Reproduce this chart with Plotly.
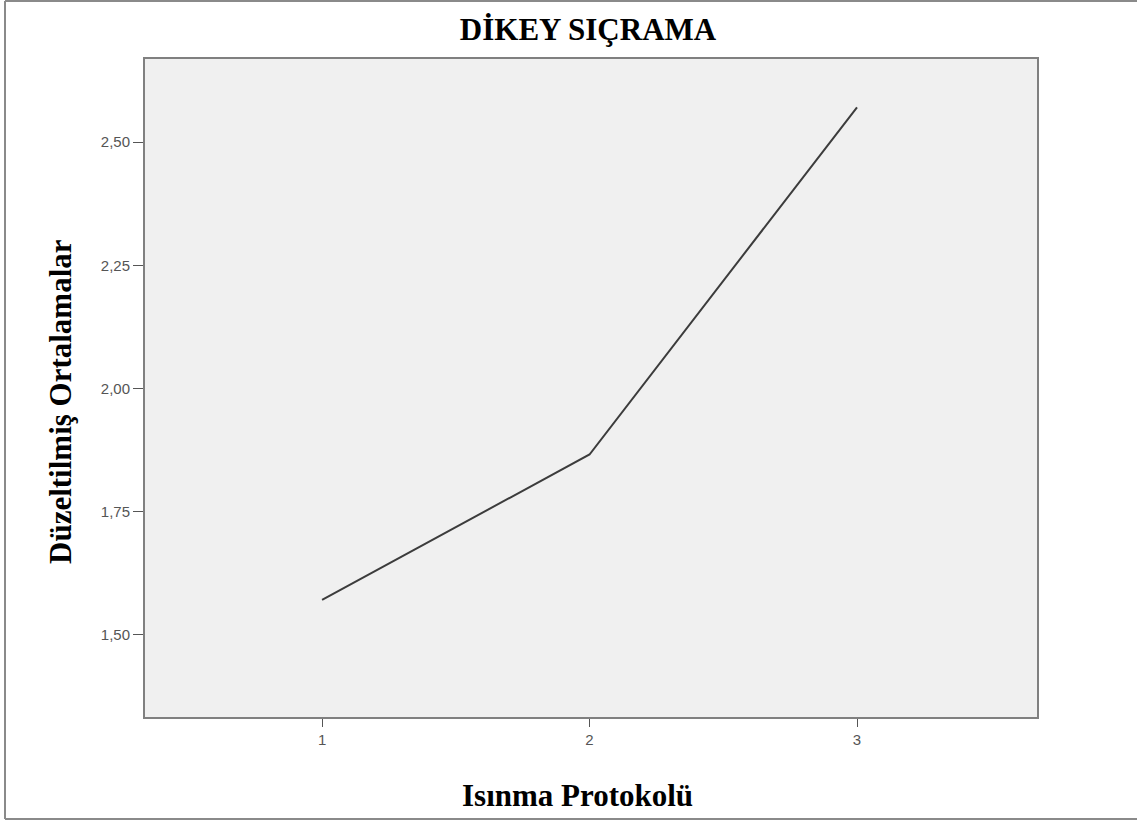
import plotly.graph_objects as go

protocols = [1, 2, 3]
adjusted_means = [1.571, 1.866, 2.571]
y_ticks = [1.50, 1.75, 2.00, 2.25, 2.50]

L, R, T, B = 145, 100, 59, 106
W, H = 1137, 823
pw, ph = W - L - R, H - T - B

serif_title = dict(family="Liberation Serif", size=31, color="black")

fig = go.Figure()
fig.add_trace(go.Scatter(
    x=protocols, y=adjusted_means, mode="lines",
    line=dict(color="#3c3c3c", width=2), showlegend=False,
))

fig.update_layout(
    width=W, height=H,
    margin=dict(l=L, r=R, t=T, b=B),
    paper_bgcolor="white", plot_bgcolor="#f0f0f0",
    separators=",.",
    title=dict(text="<b>DİKEY SIÇRAMA</b>", x=(588 - L) / pw, xref="paper",
               xanchor="center", y=1 - 29 / H, yanchor="middle",
               font=serif_title),
    xaxis=dict(range=[0.338, 3.673], tickvals=protocols, ticktext=["1", "2", "3"],
               showgrid=False, zeroline=False, showline=True, mirror=True,
               linecolor="#808080", linewidth=2, ticks="outside", ticklen=8,
               tickcolor="#555", tickwidth=1,
               tickfont=dict(family="Arial", size=15, color="#555")),
    yaxis=dict(range=[1.333, 2.669], tickvals=y_ticks, tickformat=".2f",
               showgrid=False, zeroline=False, showline=True, mirror=True,
               linecolor="#808080", linewidth=2, ticks="outside", ticklen=10,
               tickcolor="#555", tickwidth=1,
               tickfont=dict(family="Arial", size=15, color="#555")),
)

# axis titles placed as annotations to match reference positions
fig.add_annotation(text="<b>Isınma Protokolü</b>", xref="paper", yref="paper",
                   x=(577 - L) / pw, y=-(795 - (H - B)) / ph,
                   xanchor="center", yanchor="middle", showarrow=False, font=serif_title)
fig.add_annotation(text="<b>Düzeltilmiş Ortalamalar</b>", xref="paper", yref="paper",
                   x=-(L - 60) / pw, y=1 - (402 - T) / ph, textangle=-90,
                   xanchor="center", yanchor="middle", showarrow=False, font=serif_title)

# outer frame
x0 = (5 - L) / pw
x1 = (1150 - L) / pw
y1 = 1 + (T - 1) / ph
y0 = -(819 - (H - B)) / ph
for sx0, sx1, sy0, sy1 in [(x0, x1, y1, y1), (x0, x1, y0, y0), (x0, x0, y0, y1)]:
    fig.add_shape(type="line", xref="paper", yref="paper", x0=sx0, x1=sx1,
                  y0=sy0, y1=sy1, line=dict(color="#8a8a8a", width=2))

fig.write_html("out.html", config={"displayModeBar": False},
               post_script="document.body.style.margin='0';")
